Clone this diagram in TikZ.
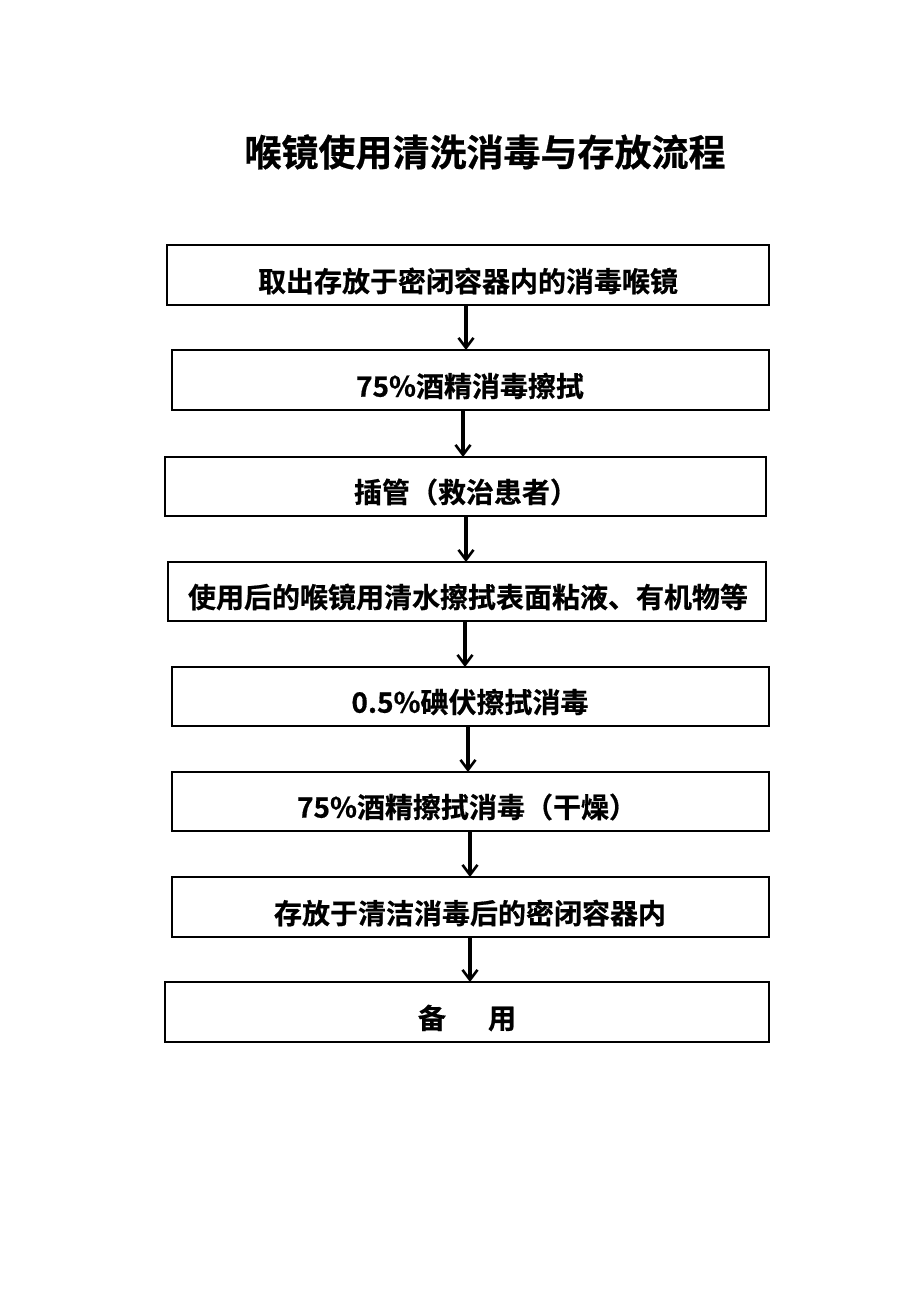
\documentclass[tikz,border=0pt]{standalone}
\usepackage{fontspec}
\setmainfont{Noto Sans CJK SC}[BoldFont={* Bold},BoldFeatures={FakeBold=0.6}]
\usetikzlibrary{arrows.meta}
\begin{document}
\begin{tikzpicture}[x=1pt,y=-1pt,
  stepbox/.style={draw=black,line width=2.2pt,inner sep=0pt},
  lbl/.style={font=\bfseries\fontsize{28}{32}\selectfont,anchor=center},
  arr/.style={line width=3.5pt,-{Straight Barb[length=10pt,width=15pt,line width=2.6pt]}}]
\useasboundingbox (0,0) rectangle (920,1302);
\node[font=\bfseries\fontsize{37}{42}\selectfont] (title) at (485,152) {喉镜使用清洗消毒与存放流程};
% boxes
\draw[stepbox] (167,245) rectangle (769,305);
\node[lbl] (t1) at (468,281) {取出存放于密闭容器内的消毒喉镜};
\draw[stepbox] (172,350) rectangle (769,410);
\node[lbl] (t2) at (470,386) {75\%酒精消毒擦拭};
\draw[stepbox] (165,457) rectangle (766,516);
\node[lbl] (t3) at (466,492) {插管（救治患者）};
\draw[stepbox] (168,562) rectangle (766,621);
\node[lbl] (t4) at (468,597) {使用后的喉镜用清水擦拭表面粘液、有机物等};
\draw[stepbox] (172,667) rectangle (769,726);
\node[lbl] (t5) at (470,702) {0.5\%碘伏擦拭消毒};
\draw[stepbox] (172,772) rectangle (769,831);
\node[lbl] (t6) at (467,807) {75\%酒精擦拭消毒（干燥）};
\draw[stepbox] (172,877) rectangle (769,937);
\node[lbl] (t7) at (470,913) {存放于清洁消毒后的密闭容器内};
\draw[stepbox] (165,982) rectangle (769,1042);
\node[lbl] (t8) at (467,1018) {备\hspace{1.5em}用};
% box edge coordinates for connectors
\coordinate (s1) at (466,306); \coordinate (n2) at (466,350);
\coordinate (s2) at (463,411); \coordinate (n3) at (463,457);
\coordinate (s3) at (466,517); \coordinate (n4) at (466,562);
\coordinate (s4) at (465,622); \coordinate (n5) at (465,667);
\coordinate (s5) at (468,727); \coordinate (n6) at (468,772);
\coordinate (s6) at (470,832); \coordinate (n7) at (470,877);
\coordinate (s7) at (470,938); \coordinate (n8) at (470,982);
\draw[arr] (s1) -- (n2);
\draw[arr] (s2) -- (n3);
\draw[arr] (s3) -- (n4);
\draw[arr] (s4) -- (n5);
\draw[arr] (s5) -- (n6);
\draw[arr] (s6) -- (n7);
\draw[arr] (s7) -- (n8);
\end{tikzpicture}
\end{document}
